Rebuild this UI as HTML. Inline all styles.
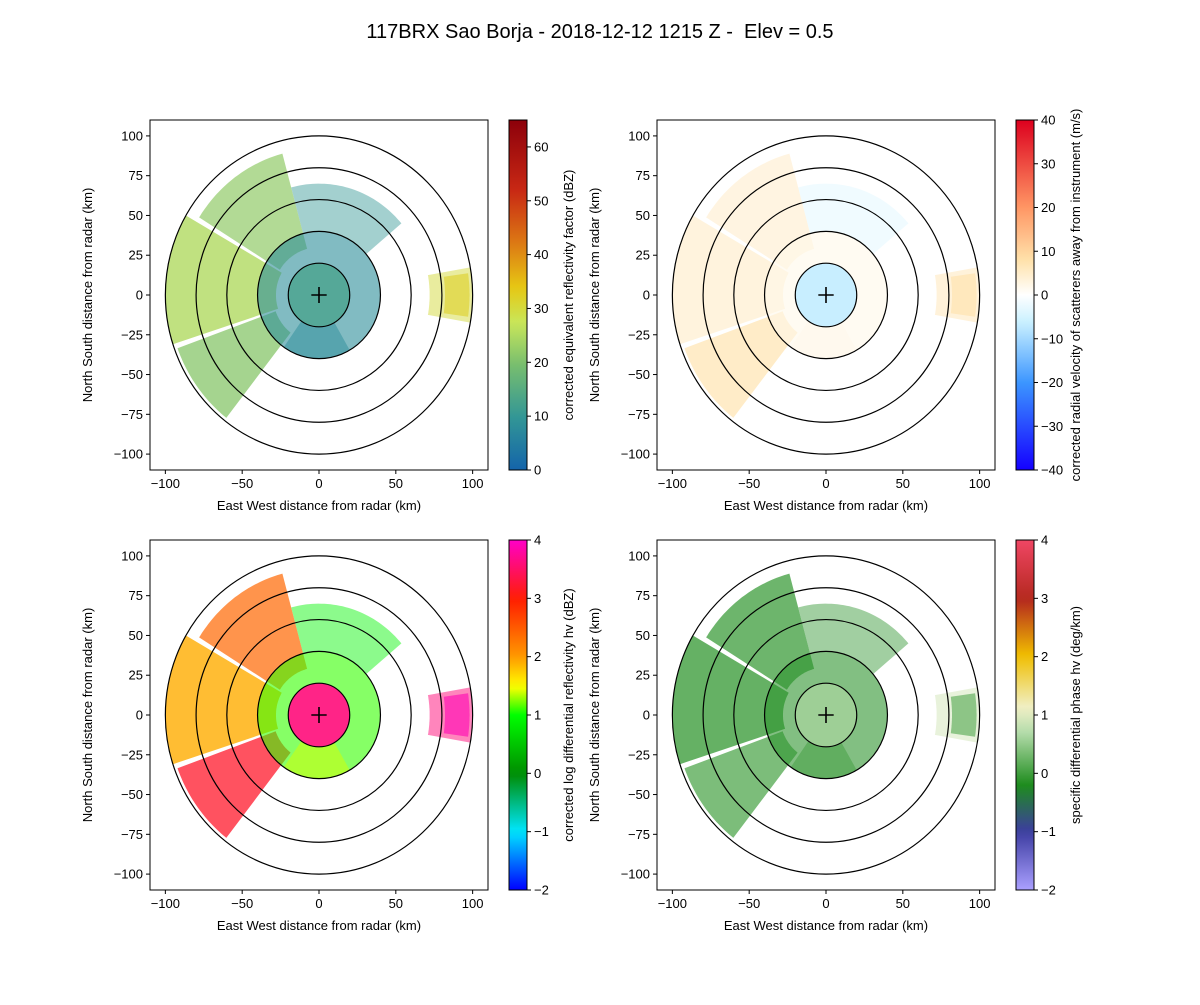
<!DOCTYPE html>
<html><head><meta charset="utf-8">
<style>
body{margin:0;background:#fff;font-family:"Liberation Sans",sans-serif;}
svg text{font-family:"Liberation Sans",sans-serif;}
</style></head>
<body>
<svg id="fig" width="1200" height="1000" xmlns="http://www.w3.org/2000/svg">
<rect width="1200" height="1000" fill="#fff"/>
<text x="600" y="38" font-size="20" text-anchor="middle" style="white-space:pre">117BRX Sao Borja - 2018-12-12 1215 Z -  Elev = 0.5</text>
</svg>
<script>
// echo sectors: azimuth (deg CCW from east), range (km)
const secAz0 = [105,150,200,0,0,40,235,-10,-8];
const secAz1 = [148,198,232,360,360,105,300,10,8];
const secR0 = [30,28,30,0,20,40,20,72,82];
const secR1 = [92,100,98,20,40,70,40,100,98];
const secOpacity = [0.7,0.8,0.75,0.9,0.6,0.45,0.5,0.5,0.6];
const reflValues = [22,25,21,12,8,10,8,30,32];
const velValues = [4,4,7,-7,2,-4,2,7,8];
const zdrValues = [2.4,1.9,3.2,3.6,1.1,0.9,1.4,3.6,3.9];
const kdpValues = [-0.1,0,0.1,0.5,-0.1,-0.1,0,0.9,0.1];
const xTicks = [-100,-50,0,50,100];
const yTicks = [-100,-75,-50,-25,0,25,50,75,100];
const ringRanges = [20,40,60,80,100];
const reflTicks = [0,10,20,30,40,50,60];
const velTicks = [-40,-30,-20,-10,0,10,20,30,40];
const zdrTicks = [-2,-1,0,1,2,3,4];
const kdpTicks = [-2,-1,0,1,2,3,4];

const NS="http://www.w3.org/2000/svg";
const svg=document.getElementById('fig');
function el(tag,attrs,parent){const e=document.createElementNS(NS,tag);for(const k in attrs)e.setAttribute(k,attrs[k]);(parent||svg).appendChild(e);return e;}
function lerpC(stops,t){t=Math.max(0,Math.min(1,t));for(let i=1;i<stops.length;i++){if(t<=stops[i][0]){const a=stops[i-1],b=stops[i];const f=(t-a[0])/(b[0]-a[0]||1);const c=[0,1,2].map(j=>Math.round(a[1][j]+(b[1][j]-a[1][j])*f));return `rgb(${c})`;}}return `rgb(${stops[stops.length-1][1]})`;}
const cmaps={
 refl:[[0,[20,100,170]],[0.15,[50,150,150]],[0.3,[120,190,110]],[0.42,[200,230,90]],[0.52,[230,200,20]],[0.65,[220,120,20]],[0.8,[200,40,20]],[1,[140,0,10]]],
 vel:[[0,[20,0,255]],[0.25,[60,150,255]],[0.42,[200,240,255]],[0.5,[255,255,255]],[0.6,[255,225,170]],[0.75,[255,150,100]],[1,[220,0,30]]],
 zdr:[[0,[0,0,255]],[0.167,[0,230,255]],[0.333,[0,140,0]],[0.5,[0,255,0]],[0.58,[255,255,0]],[0.67,[255,150,0]],[0.83,[255,30,0]],[1,[255,0,200]]],
 kdp:[[0,[170,160,255]],[0.167,[60,60,160]],[0.3,[30,140,30]],[0.45,[180,220,170]],[0.52,[240,240,200]],[0.67,[240,190,0]],[0.83,[180,40,30]],[1,[240,70,100]]]
};
const panels=[
 {L:150,T:120,vals:reflValues,cm:'refl',vmin:0,vmax:65,ticks:reflTicks,label:'corrected equivalent reflectivity factor (dBZ)',name:'reflectivity'},
 {L:657,T:120,vals:velValues,cm:'vel',vmin:-40,vmax:40,ticks:velTicks,label:'corrected radial velocity of scatterers away from instrument (m/s)',name:'velocity'},
 {L:150,T:540,vals:zdrValues,cm:'zdr',vmin:-2,vmax:4,ticks:zdrTicks,label:'corrected log differential reflectivity hv (dBZ)',name:'zdr'},
 {L:657,T:540,vals:kdpValues,cm:'kdp',vmin:-2,vmax:4,ticks:kdpTicks,label:'specific differential phase hv (deg/km)',name:'kdp'}
];
const W=338,H=350;
panels.forEach((p,pi)=>{
 const px=x=>p.L+(x+110)/220*W, py=y=>p.T+(110-y)/220*H;
 const g=el('g',{});
 
 
 const cp=el('clipPath',{id:'cp'+pi},g);el('rect',{x:p.L,y:p.T,width:W,height:H},cp);
 const dg=el('g',{'clip-path':`url(#cp${pi})`},g);
 for(let i=0;i<secAz0.length;i++){
  let d='';const n=40;
  for(let k=0;k<=n;k++){const a=(secAz0[i]+(secAz1[i]-secAz0[i])*k/n)*Math.PI/180;d+=(k?'L':'M')+px(secR1[i]*Math.cos(a)).toFixed(1)+','+py(secR1[i]*Math.sin(a)).toFixed(1);}
  for(let k=n;k>=0;k--){const a=(secAz0[i]+(secAz1[i]-secAz0[i])*k/n)*Math.PI/180;d+='L'+px(secR0[i]*Math.cos(a)).toFixed(1)+','+py(secR0[i]*Math.sin(a)).toFixed(1);}
  const s=el('path',{d:d+'Z',fill:lerpC(cmaps[p.cm],(p.vals[i]-p.vmin)/(p.vmax-p.vmin)),opacity:secOpacity[i]},dg);
  
  
 }
 ringRanges.forEach(r=>{const c=el('ellipse',{cx:px(0),cy:py(0),rx:r/220*W,ry:r/220*H,fill:'none',stroke:'#000','stroke-width':1.2},dg);
  
  });
 el('path',{d:`M${px(-5)},${py(0)}H${px(5)}M${px(0)},${py(-5)}V${py(5)}`,stroke:'#000','stroke-width':1.6},dg);
 el('rect',{x:p.L,y:p.T,width:W,height:H,fill:'none',stroke:'#000','stroke-width':1},g);
 xTicks.forEach(v=>{const x=px(v);el('line',{x1:x,x2:x,y1:p.T+H,y2:p.T+H+4,stroke:'#000'},g);
  const t=el('text',{x:x,y:p.T+H+18,'font-size':13,'text-anchor':'middle'},g);t.textContent=v<0?'\u2212'+(-v):v;});
 yTicks.forEach(v=>{const y=py(v);el('line',{x1:p.L-4,x2:p.L,y1:y,y2:y,stroke:'#000'},g);
  const t=el('text',{x:p.L-7,y:y+4.5,'font-size':13,'text-anchor':'end'},g);t.textContent=v<0?'\u2212'+(-v):v;});
 const xl=el('text',{x:p.L+W/2,y:p.T+H+40,'font-size':13,'text-anchor':'middle'},g);xl.textContent='East West distance from radar (km)';
 
 const yl=el('text',{x:0,y:0,'font-size':13,'text-anchor':'middle',transform:`translate(${p.L-58},${p.T+H/2}) rotate(-90)`},g);yl.textContent='North South distance from radar (km)';
 
 const cx=p.L+359,cw=18;
 const gid='grad'+pi;const lg=el('linearGradient',{id:gid,x1:0,y1:1,x2:0,y2:0},g);
 for(let k=0;k<=40;k++)el('stop',{offset:k/40,'stop-color':lerpC(cmaps[p.cm],k/40)},lg);
 const cb=el('rect',{x:cx,y:p.T,width:cw,height:H,fill:`url(#${gid})`,stroke:'#000','stroke-width':1},g);
 
 p.ticks.forEach(v=>{const y=p.T+H-(v-p.vmin)/(p.vmax-p.vmin)*H;el('line',{x1:cx+cw,x2:cx+cw+4,y1:y,y2:y,stroke:'#000'},g);
  const t=el('text',{x:cx+cw+7,y:y+4.5,'font-size':13},g);t.textContent=v<0?'\u2212'+(-v):v;});
 const cl=el('text',{x:0,y:0,'font-size':13,'text-anchor':'middle',transform:`translate(${cx+cw+46},${p.T+H/2}) rotate(-90)`},g);cl.textContent=p.label;
 
});
</script>
</body></html>
